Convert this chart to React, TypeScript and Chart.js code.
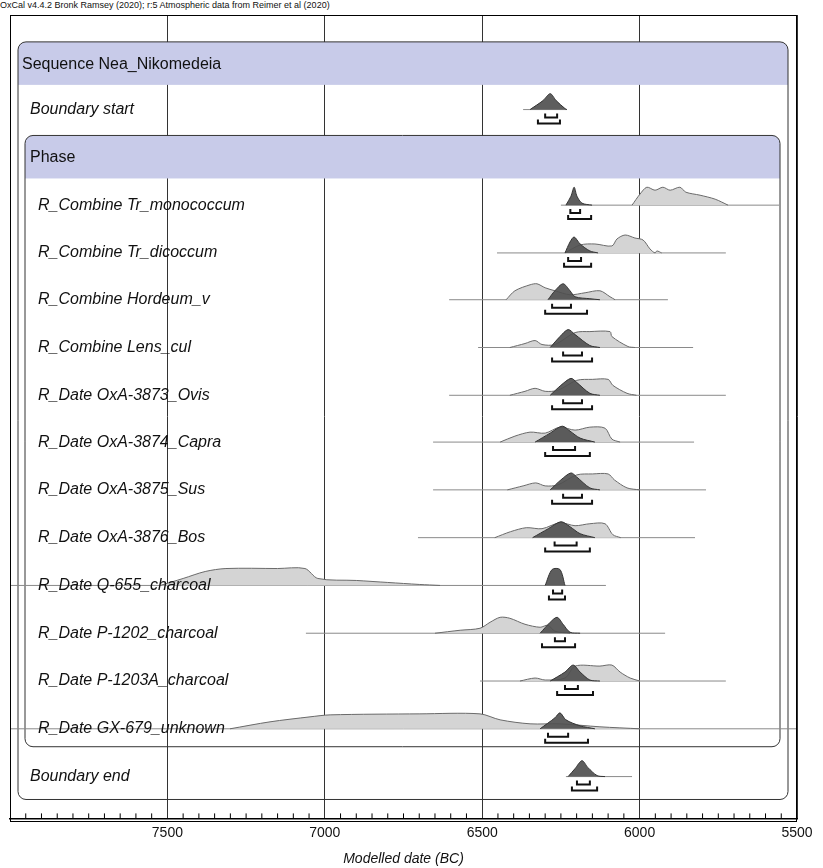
import { useEffect, useRef } from 'react';
import Chart from 'chart.js/auto';

const title = 'OxCal v4.4.2 Bronk Ramsey (2020); r:5 Atmospheric data from Reimer et al (2020)';

// row labels and baselines (in chart y units, 0 = top of plot)
const labels = [
  'Boundary start',
  'R_Combine Tr_monococcum',
  'R_Combine Tr_dicoccum',
  'R_Combine Hordeum_v',
  'R_Combine Lens_cul',
  'R_Date OxA-3873_Ovis',
  'R_Date OxA-3874_Capra',
  'R_Date OxA-3875_Sus',
  'R_Date OxA-3876_Bos',
  'R_Date Q-655_charcoal',
  'R_Date P-1202_charcoal',
  'R_Date P-1203A_charcoal',
  'R_Date GX-679_unknown',
  'Boundary end',
];
const baselines = [95, 191, 239, 286, 334, 382, 429, 477, 525, 573, 621, 669, 717, 765];

// extent of the thin baseline for each row [from, to] in years BC
const spans: number[][] = [
  [6370, 6231], [6250, 5557], [6453, 5726], [6605, 5910], [6513, 5830], [6605, 5726], [6656, 5827],
  [6656, 5789], [6704, 5824], [8000, 6107], [7060, 5919], [6507, 5726], [8000, 5500], [6234, 6024],
];

// unmodelled (light) distributions [year, height]
const light: number[][][] = [
  [],
  [[6024, 0], [5999, 11], [5977, 18], [5951, 15], [5926, 18], [5903, 15], [5872, 18], [5853, 13], [5808, 10], [5760, 6], [5719, 0]],
  [[6237, 0], [6189, 8], [6142, 9], [6088, 7], [6072, 14], [6046, 18], [6015, 15], [5989, 13], [5967, 4], [5951, 0], [5945, 2], [5930, 0]],
  [[6424, 0], [6396, 9], [6348, 15], [6326, 16], [6300, 12], [6269, 9], [6221, 5], [6173, 7], [6126, 9], [6094, 3], [6078, 0]],
  [[6412, 0], [6364, 4], [6332, 7], [6310, 3], [6269, 3], [6205, 15], [6158, 16], [6094, 16], [6088, 11], [6037, 1], [6015, 0]],
  [[6412, 0], [6364, 4], [6332, 7], [6300, 4], [6260, 5], [6200, 15], [6150, 16], [6100, 16], [6085, 10], [6040, 2], [6010, 0]],
  [[6443, 0], [6396, 6], [6348, 10], [6300, 9], [6253, 15], [6205, 12], [6158, 15], [6110, 14], [6088, 3], [6062, 0]],
  [[6420, 0], [6370, 4], [6330, 7], [6300, 4], [6260, 5], [6200, 15], [6150, 16], [6100, 16], [6080, 10], [6040, 2], [6000, 0]],
  [[6460, 0], [6410, 6], [6360, 10], [6310, 9], [6253, 15], [6205, 12], [6158, 14], [6110, 14], [6085, 3], [6060, 0]],
  [[7523, 0], [7450, 7], [7380, 14], [7314, 17], [7150, 17], [7063, 17], [7022, 7], [6900, 5], [6800, 3], [6700, 1], [6634, 0]],
  [[6650, 0], [6570, 3], [6507, 5], [6475, 11], [6443, 16], [6412, 15], [6364, 9], [6316, 6], [6291, 8], [6269, 2], [6221, 0]],
  [[6380, 0], [6332, 3], [6300, 1], [6237, 3], [6205, 15], [6126, 15], [6088, 16], [6062, 9], [6030, 3], [5999, 0]],
  [[7301, 0], [7174, 7], [7047, 12], [6983, 14], [6698, 15], [6507, 15], [6443, 9], [6348, 5], [6253, 5], [6126, 2], [5999, 0]],
  [],
];

// modelled (dark) distributions [year, height]
const dark: number[][][] = [
  [[6348, 0], [6307, 9], [6284, 16], [6265, 9], [6237, 1], [6231, 0]],
  [[6234, 0], [6218, 9], [6208, 18], [6199, 9], [6183, 2], [6151, 0]],
  [[6237, 0], [6221, 11], [6208, 16], [6189, 9], [6158, 2], [6132, 0]],
  [[6291, 0], [6269, 9], [6243, 16], [6221, 9], [6205, 3], [6158, 1], [6126, 0]],
  [[6284, 0], [6253, 11], [6227, 18], [6205, 13], [6158, 2], [6126, 0]],
  [[6284, 0], [6250, 10], [6218, 17], [6200, 13], [6158, 2], [6126, 0]],
  [[6332, 0], [6284, 9], [6246, 16], [6221, 11], [6189, 4], [6142, 0]],
  [[6284, 0], [6250, 10], [6218, 17], [6200, 13], [6158, 2], [6126, 0]],
  [[6340, 0], [6290, 9], [6250, 16], [6221, 11], [6189, 4], [6142, 0]],
  [[6300, 0], [6278, 16], [6253, 16], [6237, 0]],
  [[6316, 0], [6284, 11], [6262, 16], [6243, 9], [6221, 1], [6189, 0]],
  [[6284, 0], [6237, 9], [6211, 16], [6189, 9], [6158, 1], [6126, 0]],
  [[6316, 0], [6269, 11], [6253, 16], [6234, 9], [6189, 3], [6142, 0]],
  [[6227, 0], [6205, 8], [6183, 16], [6164, 9], [6135, 1], [6110, 0]],
];

// 68.2% and 95.4% ranges [from, to]
const range68: number[][] = [
  [6300, 6262], [6220, 6189], [6227, 6186], [6278, 6218], [6243, 6183], [6243, 6183], [6275, 6205],
  [6243, 6183], [6270, 6200], [6275, 6246], [6269, 6237], [6237, 6196], [6291, 6227], [6199, 6158],
];
const range95: number[][] = [
  [6323, 6253], [6227, 6154], [6240, 6154], [6300, 6167], [6278, 6151], [6278, 6151], [6300, 6158],
  [6278, 6151], [6300, 6158], [6288, 6237], [6310, 6205], [6262, 6148], [6300, 6164], [6215, 6135],
];

const boxPlugin = {
  id: 'oxcalBoxes',
  beforeDatasetsDraw(chart: any) {
    const { ctx, chartArea: a, scales } = chart;
    const y = scales.y;
    const rr = (x0: number, y0: number, x1: number, y1: number, fill?: string) => {
      ctx.beginPath();
      ctx.roundRect(x0, y0, x1 - x0, y1 - y0, 8);
      if (fill) {
        ctx.save();
        ctx.clip();
        ctx.fillStyle = fill;
        ctx.fillRect(x0, y0, x1 - x0, 43);
        ctx.restore();
      }
      ctx.beginPath();
      ctx.roundRect(x0, y0, x1 - x0, y1 - y0, 8);
      ctx.strokeStyle = '#333';
      ctx.lineWidth = 1;
      ctx.stroke();
    };
    ctx.save();
    rr(a.left + 8, y.getPixelForValue(27), a.right - 9, y.getPixelForValue(788), '#c8cbe9');
    rr(a.left + 15, y.getPixelForValue(121), a.right - 17, y.getPixelForValue(735), '#c8cbe9');
    ctx.fillStyle = '#111';
    ctx.textBaseline = 'middle';
    ctx.font = '16px Arial, "Liberation Sans"';
    ctx.fillText('Sequence Nea_Nikomedeia', a.left + 12, y.getPixelForValue(50));
    ctx.fillText('Phase', a.left + 20, y.getPixelForValue(143));
    ctx.restore();
  },
  afterDatasetsDraw(chart: any) {
    const { ctx, scales, chartArea: a } = chart;
    const x = scales.x;
    const y = scales.y;
    ctx.save();
    ctx.fillStyle = '#111';
    ctx.textBaseline = 'middle';
    ctx.font = 'italic 16px Arial, "Liberation Sans"';
    labels.forEach((l, i) => {
      const indent = i === 0 || i === labels.length - 1 ? 20 : 28;
      ctx.fillText(l, a.left + indent, y.getPixelForValue(baselines[i]));
    });
    ctx.strokeStyle = '#111';
    ctx.lineWidth = 2;
    const bracket = (r: number[], off: number, i: number) => {
      const yy = y.getPixelForValue(baselines[i] + off);
      const x0 = x.getPixelForValue(r[0]);
      const x1 = x.getPixelForValue(r[1]);
      ctx.beginPath();
      ctx.moveTo(x0, yy - 4);
      ctx.lineTo(x0, yy);
      ctx.lineTo(x1, yy);
      ctx.lineTo(x1, yy - 4);
      ctx.stroke();
    };
    baselines.forEach((_, i) => {
      bracket(range68[i], 8, i);
      bracket(range95[i], 14, i);
    });
    // minor ticks
    ctx.lineWidth = 1;
    ctx.strokeStyle = '#000';
    for (let v = 5500; v <= 8000; v += 50) {
      if (v % 500 === 0) continue;
      const px = x.getPixelForValue(v);
      ctx.beginPath();
      ctx.moveTo(px, a.bottom);
      ctx.lineTo(px, a.bottom - 5);
      ctx.stroke();
    }
    ctx.restore();
  },
};

export default function App() {
  const canvasRef = useRef<HTMLCanvasElement>(null);

  useEffect(() => {
    document.body.style.margin = '0';
    if (!canvasRef.current) return;
    const datasets: any[] = [];
    baselines.forEach((b, i) => {
      datasets.push({
        data: spans[i].map(v => ({ x: v, y: b })),
        borderColor: '#8a8a8a',
        borderWidth: 1,
        pointRadius: 0,
        fill: false,
        order: 3,
      });
      if (light[i].length) {
        datasets.push({
          data: light[i].map(p => ({ x: p[0], y: b - p[1] })),
          borderColor: '#6a6a6a',
          backgroundColor: '#d4d4d4',
          borderWidth: 1,
          pointRadius: 0,
          tension: 0.3,
          fill: { value: b },
          order: 2,
        });
      }
      datasets.push({
        data: dark[i].map(p => ({ x: p[0], y: b - p[1] })),
        borderColor: '#333',
        backgroundColor: 'rgba(80,80,80,0.92)',
        borderWidth: 1,
        pointRadius: 0,
        tension: 0.3,
        fill: { value: b },
        order: 1,
      });
    });

    const chart = new Chart(canvasRef.current, {
      type: 'line',
      data: { datasets },
      plugins: [boxPlugin],
      options: {
        animation: false,
        responsive: false,
        layout: { padding: { left: 10, right: 26, top: 15, bottom: 0 } },
        plugins: { legend: { display: false }, tooltip: { enabled: false } },
        scales: {
          x: {
            type: 'linear',
            reverse: true,
            min: 5500,
            max: 8000,
            border: { display: true, color: '#000', width: 1.5 },
            grid: { color: '#333', lineWidth: 1, drawTicks: false },
            ticks: {
              stepSize: 500,
              padding: 6,
              color: '#111',
              font: { size: 14, family: 'Arial, "Liberation Sans"' },
              callback: (v: any) => (v === 8000 ? '' : String(v)),
            },
            title: {
              display: true,
              text: 'Modelled date (BC)',
              color: '#111',
              font: { size: 14, style: 'italic', family: 'Arial, "Liberation Sans"' },
              padding: { top: 4, bottom: 0 },
            },
          },
          y: {
            type: 'linear',
            reverse: true,
            min: 0,
            max: 807,
            display: false,
          },
        },
      },
    } as any);

    return () => chart.destroy();
  }, []);

  return (
    <div style={{ position: 'relative', width: 823, height: 868, background: '#fff' }}>
      <div style={{ position: 'absolute', left: 0, top: 0, font: '9px Arial, "Liberation Sans"', color: '#111' }}>{title}</div>
      <canvas ref={canvasRef} width={823} height={868} style={{ position: 'absolute', left: 0, top: 0 }} />
      <div style={{ position: 'absolute', left: 10, top: 15, width: 787, height: 807, border: '1.5px solid #000', boxSizing: 'border-box', pointerEvents: 'none' }} />
    </div>
  );
}
